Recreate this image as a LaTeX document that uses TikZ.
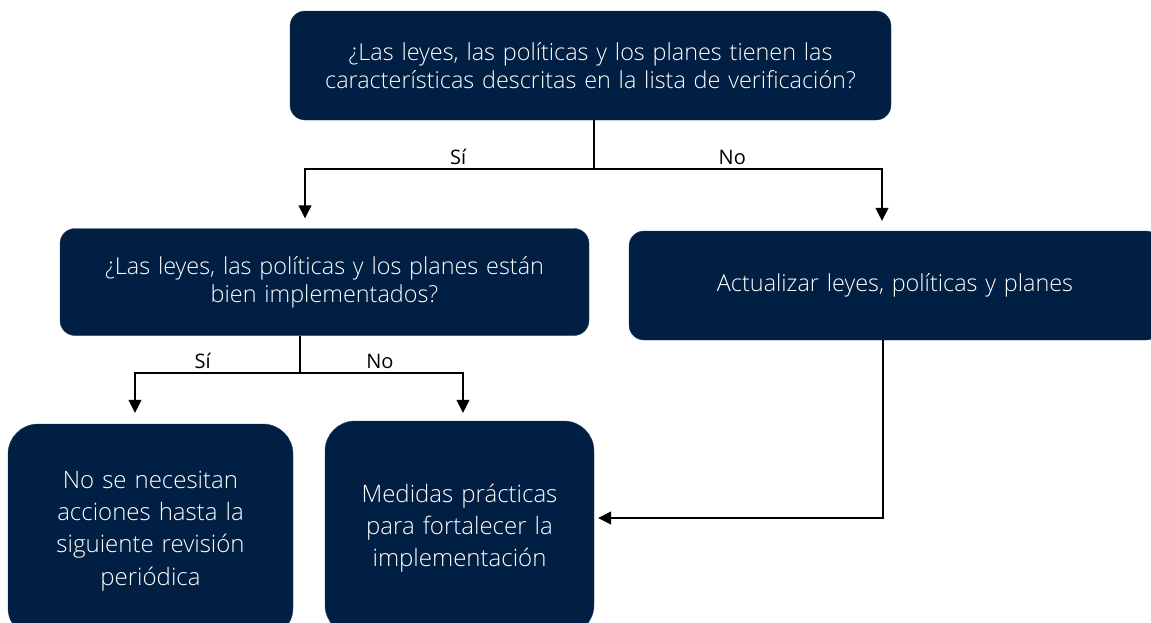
\documentclass[tikz,border=0pt]{standalone}
\usepackage{fontspec}
\setmainfont{Open Sans}
\newfontfamily\lightfont{Open Sans Light}
\usetikzlibrary{positioning, arrows.meta, calc}
\definecolor{navy}{HTML}{001F42}

\begin{document}
\begin{tikzpicture}[
    x=1pt, y=-1pt,
    question/.style={rectangle, rounded corners=15pt, minimum width=529pt, minimum height=107pt, text width=510pt, align=center, draw=navy!85!white, fill=navy, text=white, font=\lightfont\fontsize{23.4}{28}\selectfont},
    outcome/.style={question, rounded corners=30pt, minimum width=285pt, minimum height=214pt, text width=265pt, font=\lightfont\fontsize{24}{32.3}\selectfont},
    answer/.style={font=\fontsize{20}{22}\selectfont, inner sep=3.5pt},
    arrow/.style={line width=1.3pt, -{Triangle[width=13pt, length=13pt]}},
    link/.style={line width=1.3pt},
]
\clip (0,0) rectangle (1151,622);

% Nodes
\node[question, minimum width=601pt, minimum height=109pt, text width=590pt] (checklist) at (590.5,65.5) {¿Las leyes, las políticas y los planes tienen las\\características descritas en la lista de verificación?};
\node[question] (implemented) at (324.5,282) {¿Las leyes, las políticas y los planes están\\bien implementados?};
\node[question, minimum width=532pt, minimum height=109pt] (update) at (895,285.5) {Actualizar leyes, políticas y planes};
\node[outcome] (noaction) at (150.5,531) {No se necesitan\\acciones hasta la\\siguiente revisión\\periódica};
\node[outcome, minimum width=269pt, text width=250pt] (measures) at (459.5,528) {Medidas prácticas\\para fortalecer la\\implementación};

% Connections
\coordinate (split1) at (594,169);
\coordinate (split2) at (300,373);
\draw[link] (checklist.south -| split1) -- (split1);
\draw[arrow, shorten >=10pt] (split1) -| node[answer, pos=0.235, above] {Sí} ([xshift=-19.5pt]implemented.north);
\draw[arrow, shorten >=10pt] (split1) -| node[answer, pos=0.24, above] {No} ([xshift=-13pt]update.north);
\draw[link] (implemented.south -| split2) -- (split2);
\draw[arrow, shorten >=11pt] (split2) -| node[answer, pos=0.295, above] {Sí} ([xshift=-15.5pt]noaction.north);
\draw[arrow, shorten >=8pt] (split2) -| node[answer, pos=0.245, above] {No} ([xshift=3.5pt]measures.north);
\draw[arrow, shorten >=4pt] ([xshift=-12pt]update.south) |- ([yshift=10pt]measures.east);

\end{tikzpicture}
\end{document}
